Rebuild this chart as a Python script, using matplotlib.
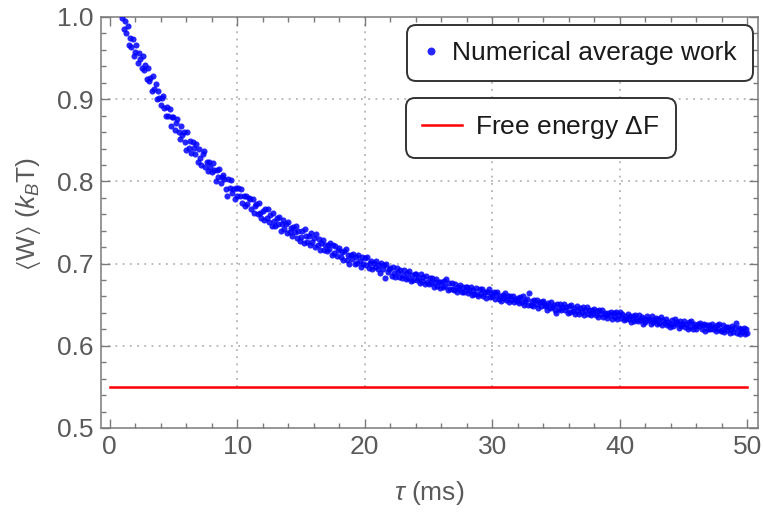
import numpy as np
import matplotlib
matplotlib.use("Agg")
import matplotlib.pyplot as plt
from matplotlib.ticker import MultipleLocator

plt.rcParams['font.family'] = ['Liberation Sans', 'DejaVu Sans']
plt.rcParams['mathtext.fontset'] = 'custom'
plt.rcParams['mathtext.rm'] = 'Liberation Sans'
plt.rcParams['mathtext.it'] = 'Liberation Sans:italic'
plt.rcParams['mathtext.fallback'] = 'stixsans'

# protocol duration tau (ms), sampled every 0.1 ms from 1 to 50
tau = np.round(np.arange(1.0, 50.05, 0.1), 1)

# numerically averaged work <W> in units of k_B T, one row per ms
work = np.array([
    0.999, 0.985, 0.995, 0.981, 0.989, 0.966, 0.975, 0.964, 0.973, 0.952,
    0.957, 0.966, 0.944, 0.956, 0.949, 0.938, 0.953, 0.935, 0.942, 0.925,
    0.938, 0.922, 0.926, 0.910, 0.928, 0.912, 0.918, 0.900, 0.910, 0.902,
    0.893, 0.901, 0.904, 0.889, 0.879, 0.891, 0.879, 0.888, 0.867, 0.878,
    0.878, 0.863, 0.871, 0.876, 0.860, 0.852, 0.867, 0.857, 0.860, 0.848,
    0.838, 0.860, 0.841, 0.849, 0.835, 0.848, 0.841, 0.833, 0.845, 0.824,
    0.840, 0.828, 0.820, 0.833, 0.837, 0.818, 0.824, 0.813, 0.823, 0.817,
    0.811, 0.822, 0.814, 0.801, 0.814, 0.805, 0.815, 0.798, 0.805, 0.808,
    0.803, 0.791, 0.782, 0.803, 0.792, 0.802, 0.786, 0.791, 0.779, 0.792,
    0.782, 0.792, 0.782, 0.791, 0.774, 0.782, 0.770, 0.782, 0.773, 0.780,
    0.779, 0.767, 0.779, 0.761, 0.770, 0.772, 0.760, 0.774, 0.762, 0.756,
    0.764, 0.753, 0.766, 0.756, 0.767, 0.751, 0.759, 0.746, 0.761, 0.752,
    0.746, 0.756, 0.748, 0.757, 0.740, 0.748, 0.753, 0.742, 0.748, 0.737,
    0.750, 0.738, 0.743, 0.734, 0.745, 0.738, 0.746, 0.731, 0.740, 0.727,
    0.732, 0.740, 0.725, 0.742, 0.733, 0.726, 0.734, 0.722, 0.737, 0.726,
    0.731, 0.720, 0.736, 0.722, 0.730, 0.716, 0.725, 0.729, 0.716, 0.722,
    0.715, 0.722, 0.718, 0.725, 0.710, 0.722, 0.713, 0.721, 0.709, 0.716,
    0.719, 0.708, 0.714, 0.704, 0.715, 0.718, 0.704, 0.710, 0.700, 0.711,
    0.705, 0.712, 0.700, 0.708, 0.701, 0.711, 0.703, 0.696, 0.708, 0.699,
    0.707, 0.698, 0.708, 0.695, 0.701, 0.703, 0.693, 0.701, 0.696, 0.703,
    0.693, 0.698, 0.689, 0.701, 0.694, 0.698, 0.683, 0.700, 0.690, 0.693,
    0.695, 0.685, 0.696, 0.688, 0.684, 0.695, 0.690, 0.684, 0.692, 0.682,
    0.686, 0.692, 0.681, 0.689, 0.682, 0.691, 0.679, 0.686, 0.680, 0.687,
    0.687, 0.680, 0.683, 0.676, 0.687, 0.679, 0.684, 0.675, 0.685, 0.678,
    0.675, 0.682, 0.676, 0.683, 0.672, 0.678, 0.681, 0.673, 0.678, 0.670,
    0.677, 0.671, 0.679, 0.673, 0.681, 0.668, 0.676, 0.669, 0.676, 0.669,
    0.668, 0.675, 0.665, 0.672, 0.669, 0.674, 0.665, 0.672, 0.666, 0.672,
    0.671, 0.664, 0.668, 0.672, 0.662, 0.668, 0.663, 0.670, 0.663, 0.660,
    0.669, 0.663, 0.669, 0.660, 0.665, 0.658, 0.666, 0.669, 0.659, 0.664,
    0.660, 0.666, 0.657, 0.663, 0.666, 0.657, 0.661, 0.655, 0.662, 0.658,
    0.664, 0.656, 0.660, 0.653, 0.661, 0.656, 0.661, 0.653, 0.657, 0.654,
    0.658, 0.652, 0.659, 0.653, 0.660, 0.649, 0.655, 0.657, 0.650, 0.664,
    0.650, 0.655, 0.648, 0.656, 0.651, 0.656, 0.646, 0.653, 0.648, 0.653,
    0.654, 0.648, 0.650, 0.644, 0.652, 0.646, 0.653, 0.647, 0.650, 0.644,
    0.640, 0.651, 0.645, 0.651, 0.643, 0.647, 0.651, 0.643, 0.647, 0.640,
    0.648, 0.641, 0.650, 0.642, 0.646, 0.639, 0.648, 0.642, 0.639, 0.646,
    0.641, 0.647, 0.637, 0.643, 0.647, 0.639, 0.644, 0.637, 0.644, 0.640,
    0.645, 0.638, 0.642, 0.635, 0.643, 0.639, 0.644, 0.635, 0.640, 0.637,
    0.634, 0.640, 0.637, 0.641, 0.632, 0.640, 0.635, 0.641, 0.633, 0.637,
    0.641, 0.634, 0.639, 0.631, 0.636, 0.632, 0.639, 0.633, 0.636, 0.629,
    0.636, 0.630, 0.638, 0.632, 0.630, 0.638, 0.631, 0.635, 0.627, 0.633,
    0.629, 0.636, 0.631, 0.633, 0.627, 0.636, 0.629, 0.631, 0.634, 0.627,
    0.633, 0.628, 0.635, 0.625, 0.631, 0.628, 0.633, 0.625, 0.629, 0.623,
    0.626, 0.631, 0.624, 0.632, 0.626, 0.629, 0.622, 0.630, 0.624, 0.627,
    0.630, 0.623, 0.627, 0.621, 0.629, 0.623, 0.630, 0.621, 0.627, 0.624,
    0.621, 0.627, 0.624, 0.628, 0.621, 0.625, 0.627, 0.618, 0.625, 0.621,
    0.625, 0.620, 0.627, 0.620, 0.623, 0.618, 0.625, 0.620, 0.626, 0.618,
    0.619, 0.625, 0.617, 0.623, 0.619, 0.623, 0.615, 0.621, 0.624, 0.617,
    0.622, 0.628, 0.616, 0.622, 0.614, 0.620, 0.617, 0.622, 0.614, 0.620,
    0.616,
])

free_energy = 0.55
free_energy_span = [0, 50]

x_ticks = [0, 10, 20, 30, 40, 50]
y_ticks = [0.5, 0.6, 0.7, 0.8, 0.9, 1.0]
grid_x = [10, 20, 30, 40]
grid_y = [0.6, 0.7, 0.8, 0.9]

frame_gray = '#7a7a7a'
text_gray = '#5a5a5a'
fs = 19

fig = plt.figure(figsize=(7.63, 5.15), dpi=100)
ax = fig.add_axes([0.132, 0.169, 0.861, 0.798])

# dotted grid; the vertical lines only run above the free energy level
for gx in grid_x:
    ax.plot([gx, gx], [free_energy, 1.0], color='#b4b4b4', lw=1.3,
            ls=(0, (1, 3)), zorder=1)
for gy in grid_y:
    ax.axhline(gy, color='#b4b4b4', lw=1.3, ls=(0, (1, 3)), zorder=1)

pts, = ax.plot(tau, work, 'o', color='#0000ff', ms=4.4, mew=0,
               alpha=0.85, zorder=3, label='Numerical average work')
fe, = ax.plot(free_energy_span, [free_energy, free_energy], color='#ff0000',
              lw=1.8, zorder=2, label=r'Free energy $\Delta$F')

ax.set_xlim(-0.7, 50.8)
ax.set_ylim(0.5, 1.0)
ax.set_xticks(x_ticks)
ax.set_yticks(y_ticks)
ax.set_yticklabels(['%.1f' % v for v in y_ticks])
ax.xaxis.set_minor_locator(MultipleLocator(2))
ax.yaxis.set_minor_locator(MultipleLocator(0.02))
ax.tick_params(which='both', direction='in', top=True, right=True,
               color=frame_gray, width=1.0, labelcolor=text_gray,
               labelsize=fs)
ax.tick_params(which='major', length=6.5)
ax.tick_params(which='minor', length=3.5)
ax.tick_params(axis='x', pad=5)
ax.tick_params(axis='y', pad=5)
for sp in ax.spines.values():
    sp.set_color(frame_gray)
    sp.set_linewidth(1.1)

ax.set_xlabel(r'$\tau$ (ms)', fontsize=fs, color=text_gray)
ax.set_ylabel(r'$\langle$W$\rangle$ ($k_B$T)', fontsize=fs, color=text_gray)
ax.xaxis.set_label_coords(0.5, -0.125)
ax.yaxis.set_label_coords(-0.088, 0.52)

# two separate framed legend boxes
leg_style = dict(fontsize=fs, frameon=True, fancybox=True, loc='upper left',
                 bbox_transform=fig.transFigure, borderaxespad=0,
                 borderpad=0.62, labelspacing=0)
leg1 = ax.legend(handles=[pts], bbox_to_anchor=(0.533, 0.952),
                 handlelength=0.6, handletextpad=0.5, markerscale=1.3,
                 **leg_style)
ax.add_artist(leg1)
leg2 = ax.legend(handles=[fe], bbox_to_anchor=(0.532, 0.810),
                 handlelength=1.5, handletextpad=0.5, **leg_style)
for leg in (leg1, leg2):
    fr = leg.get_frame()
    fr.set_edgecolor('#333333')
    fr.set_linewidth(1.4)
    fr.set_facecolor('white')
    fr.set_alpha(1)
    fr.set_boxstyle('round,pad=0,rounding_size=0.35')
    for t in leg.get_texts():
        t.set_color('#1a1a1a')

fig.savefig('out.png', dpi=100)
